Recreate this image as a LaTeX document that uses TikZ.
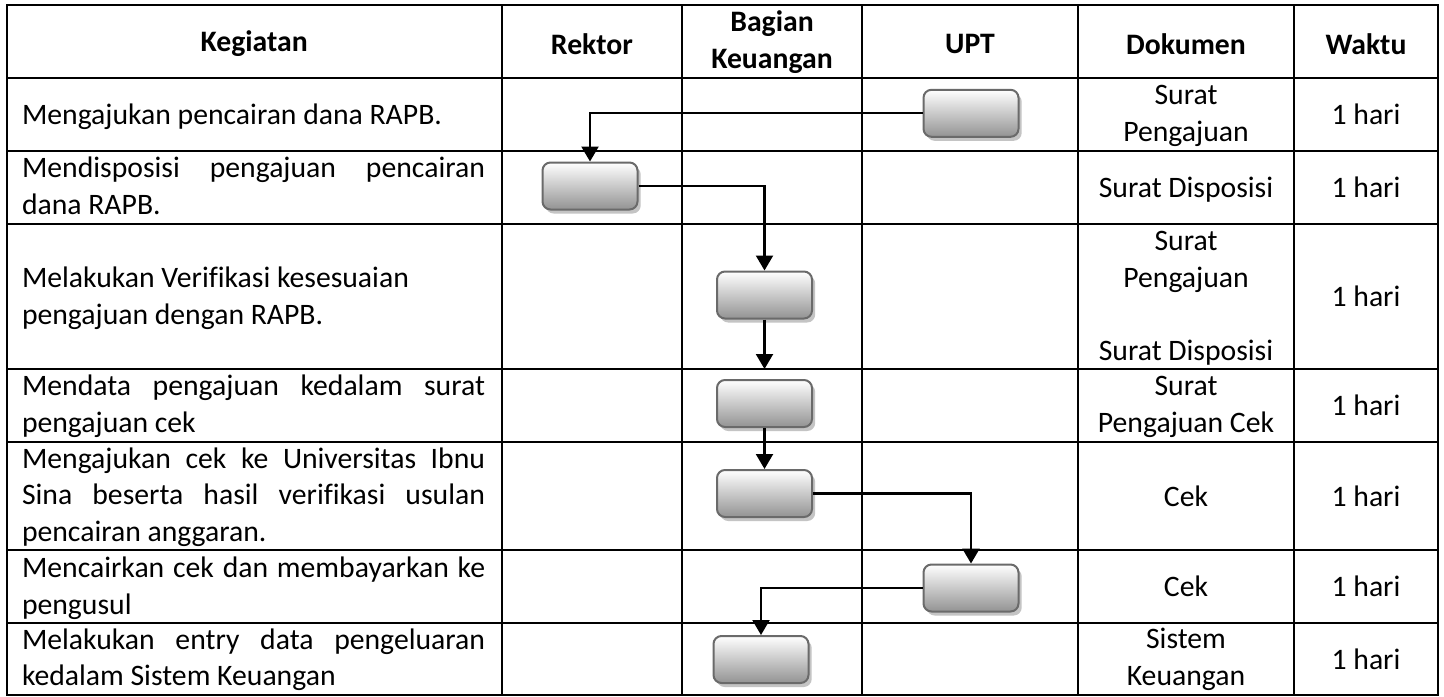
\documentclass[tikz,border=0pt]{standalone}
\usepackage{fontspec}
\setmainfont[Ligatures=NoCommon]{Carlito}
\usetikzlibrary{arrows.meta,shadows}

\definecolor{boxline}{HTML}{6A6A6A}
\definecolor{boxmid}{HTML}{D8D8D8}
\definecolor{boxlow}{HTML}{939393}
\definecolor{boxshade}{HTML}{C4C4C4}

\begin{document}
\begin{tikzpicture}[x=0.5pt,y=-0.5pt,
  grid/.style={line width=1pt, line cap=rect},
  cell/.style={inner sep=0pt, align=center,
    font=\fontsize{14.85pt}{18.35pt}\selectfont},
  head/.style={cell, font=\fontsize{14.85pt}{18.15pt}\selectfont\bfseries},
  act/.style={cell, text width=231.5pt, align=justify},
  actleft/.style={cell, text width=231.5pt, align=flush left},
  stepbox/.style={draw=boxline, line width=1pt, rounded corners=4pt,
    minimum width=47.5pt, minimum height=23.5pt, inner sep=0pt,
    top color=white, middle color=boxmid, bottom color=boxlow,
    drop shadow={shadow xshift=1.6pt, shadow yshift=-2pt,
      fill=boxshade, opacity=1}},
  flow/.style={line width=1.1pt, -{Triangle[width=8.5pt,length=7.5pt]}}
]
\useasboundingbox (0,0) rectangle (1444,696);
\fill[white] (0,0) rectangle (1444,696);

% table frame and rules
\draw[grid] (6.7,5) rectangle (1438,695);
\foreach \yy in {77.7,150.7,224,369,441.7,550,623}
  \draw[grid] (6.7,\yy) -- (1438,\yy);
\foreach \xx in {501.7,682,862,1078,1294}
  \draw[grid] (\xx,5) -- (\xx,695);

% header
\node[head] (hk) at (254.2,44) {Kegiatan};
\node[head] (hr) at (591.9,44) {Rektor};
\node[head] (hb) at (772,42) {Bagian\\Keuangan};
\node[head] (hu) at (970,44) {UPT};
\node[head] (hd) at (1186,44) {Dokumen};
\node[head] (hw) at (1366,44) {Waktu};

% activities
\node[act] (k1) at (253.5,117) {\strut Mengajukan pencairan dana RAPB.\strut};
\node[act] (k2) at (253.5,189) {\strut Mendisposisi pengajuan pencairan\linebreak dana RAPB.\strut};
\node[actleft] (k3) at (253.5,299) {\strut Melakukan Verifikasi kesesuaian\\pengajuan dengan RAPB.\strut};
\node[act] (k4) at (253.5,406.5) {\strut Mendata pengajuan kedalam surat\linebreak pengajuan cek\strut};
\node[act] (k5) at (253.5,497.5) {\strut Mengajukan cek ke Universitas Ibnu\linebreak Sina beserta hasil verifikasi usulan\linebreak pencairan anggaran.\strut};
\node[act] (k6) at (253.5,588.5) {\strut Mencairkan cek dan membayarkan ke\linebreak pengusul\strut};
\node[act] (k7) at (253.5,660) {\strut Melakukan entry data pengeluaran\linebreak kedalam Sistem Keuangan\strut};

% documents
\node[cell] (d1) at (1186,116) {\strut Surat\\Pengajuan\strut};
\node[cell] (d2) at (1186,190) {\strut Surat Disposisi\strut};
\node[cell] (d3) at (1186,298.5) {\strut Surat\\Pengajuan\\\mbox{}\\Surat Disposisi\strut};
\node[cell] (d4) at (1186,406.5) {\strut Surat\\Pengajuan Cek\strut};
\node[cell] (d5) at (1186,499) {\strut Cek\strut};
\node[cell] (d6) at (1186,589.5) {\strut Cek\strut};
\node[cell] (d7) at (1186,659.5) {\strut Sistem\\Keuangan\strut};

% durations
\foreach \yy [count=\i] in {117.5,190.5,299.5,408,499,589.5,662}
  \node[cell] (w\i) at (1366,\yy) {\strut 1 hari\strut};

% process steps
\node[stepbox] (b1) at (971,113.3) {};
\node[stepbox] (b2) at (590,186) {};
\node[stepbox] (b3) at (764.5,295) {};
\node[stepbox] (b4) at (764.5,403.5) {};
\node[stepbox] (b5) at (764.5,493.5) {};
\node[stepbox] (b6) at (971,588) {};
\node[stepbox] (b7) at (761,659.5) {};

% flow
\draw[flow] (b1.west) -| (b2.north);
\draw[flow] (b2.east) -| (b3.north);
\draw[flow, shorten >=5pt] (b3.south) -- (b4.north);
\draw[flow] (b4.south) -- (b5.north);
\draw[flow] (b5.east) -| (b6.north);
\draw[flow] (b6.west) -| (b7.north);
\end{tikzpicture}
\end{document}
